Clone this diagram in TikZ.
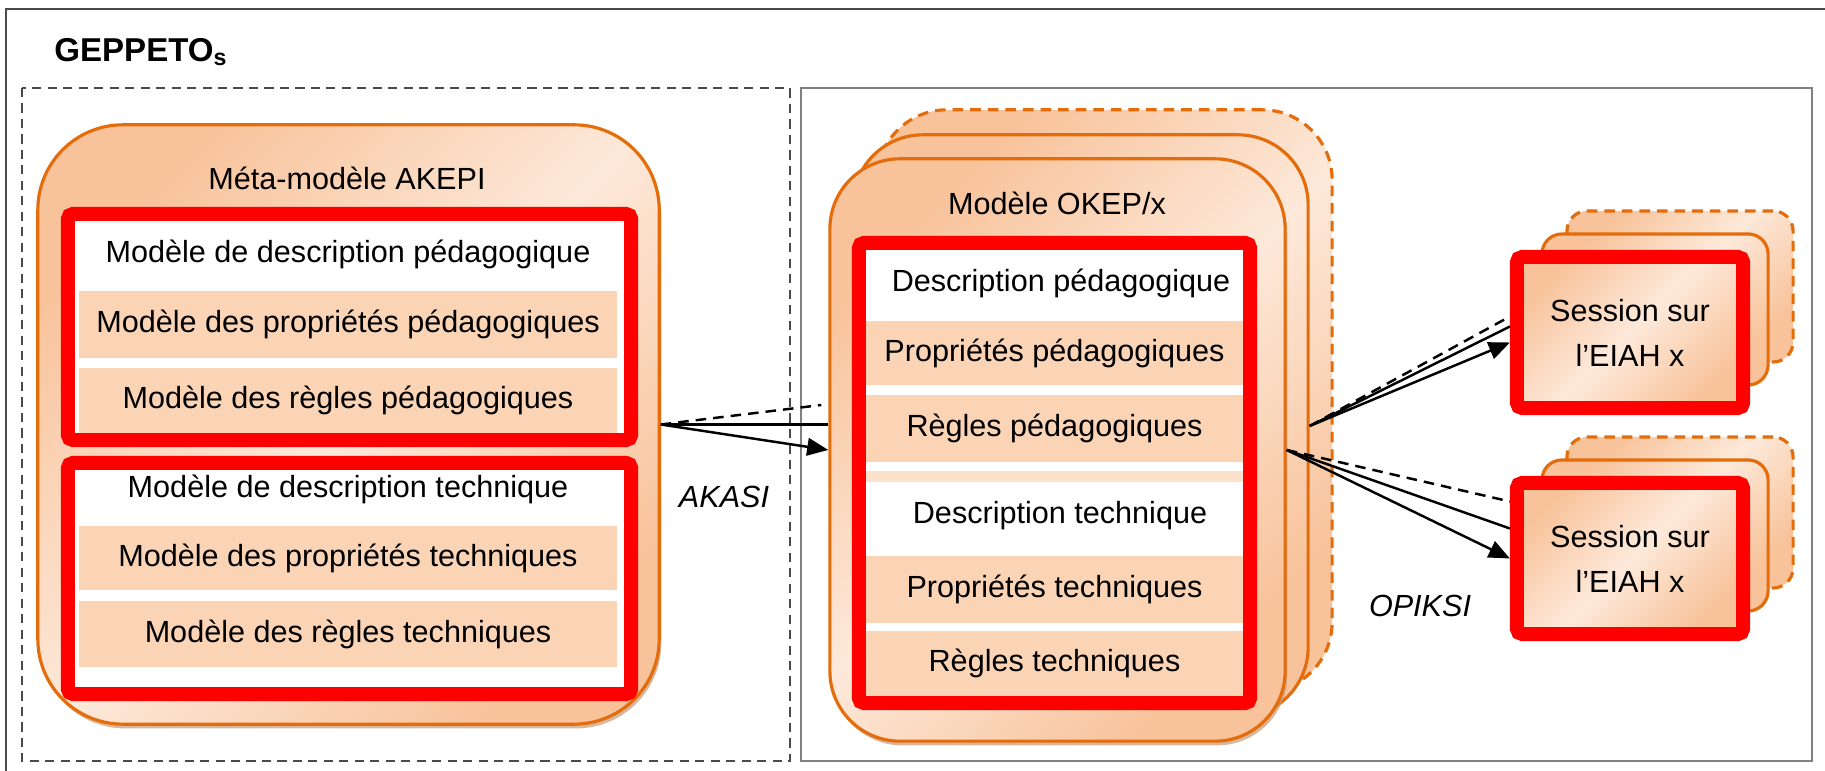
\documentclass[tikz,border=0pt]{standalone}
\usepackage{fontspec}
\setmainfont{Liberation Sans}
\usetikzlibrary{arrows.meta,calc,shadows}
\definecolor{orDark}{HTML}{F8C39B}
\definecolor{orLight}{HTML}{FDE9DA}
\definecolor{orBand}{HTML}{FAD4B5}
\definecolor{orLine}{HTML}{E46C0A}
\definecolor{frameGray}{HTML}{4A4A4A}
\definecolor{shadowBrown}{HTML}{C49A78}
\tikzset{
model/.style={
	  draw=orLine, line width=0.9pt, top color=orDark, bottom color=orDark,
	    middle color=orLight, shading angle=45, inner sep=0pt},
okeplayer/.style={model, rounded corners=0.7cm, minimum width=4.55cm,
	minimum height=5.82cm},
sesslayer/.style={model, rounded corners=0.2cm, minimum width=2.26cm,
	minimum height=1.51cm, align=center},
backdash/.style={dash pattern=on 3pt off 2pt},
hilite/.style={draw=red, line width=4pt, rounded corners=1.5pt, inner sep=0pt},
band/.style={fill=orBand, inner sep=0pt},
frame/.style={draw=frameGray, line width=0.8pt},
conn/.style={draw=black, line width=0.7pt},
tip/.style={-{Triangle[length=6pt,width=5pt]}},
shade/.style={drop shadow={shadow xshift=0.6pt, shadow yshift=-1.2pt,
	fill=shadowBrown, opacity=0.7}}
}

\begin{document}
\begin{tikzpicture}[x=0.01cm, y=-0.01cm, font=\fontsize{8.7}{12.8}\selectfont]
	\useasboundingbox (0,0) rectangle (1825,771);
	\draw[frame] (6,9) rectangle (1840,790);
	\draw[frame, dash pattern=on 2.6pt off 1.8pt] (22,88) rectangle (790,761);
	\draw[frame, draw=gray] (801,88) rectangle (1812,761);
	\node[anchor=west, font=\bfseries\fontsize{9.4}{11}\selectfont] (geppeto)
		at (42,52) {GEPPETO\textsubscript{s}};

	% meta-modele
	\node[model, shade, rounded corners=0.85cm, minimum width=6.21cm,
		minimum height=5.99cm] (akepi) at (348.5,424.5) {};
	\node (akepititle) at (347,178) {Méta-modèle AKEPI};
	\node[hilite, fill=white, minimum width=5.63cm, minimum height=2.26cm]
		(pedag) at (349.5,327) {};
	\node[hilite, fill=white, minimum width=5.63cm, minimum height=2.31cm]
		(techn) at (349.5,578.5) {};
	\node (pedagdesc) at (348,254) {Modèle de description pédagogique};
	\node[band, minimum width=5.38cm, minimum height=0.67cm] (pedagprop)
		at (348,324.5) {Modèle des propriétés pédagogiques};
	\node[band, minimum width=5.38cm, minimum height=0.65cm] (pedagrule)
		at (348,400.5) {Modèle des règles pédagogiques};
	\node (techndesc) at (348,489) {Modèle de description technique};
	\node[band, minimum width=5.38cm, minimum height=0.64cm] (technprop)
		at (348,558) {Modèle des propriétés techniques};
	\node[band, minimum width=5.38cm, minimum height=0.66cm] (technrule)
		at (348,634) {Modèle des règles techniques};

	% modele OKEP
	\node[okeplayer, backdash] (okep3) at (1104.5,401) {};
	\node[okeplayer] (okep2) at (1080.5,426) {};
	\node[okeplayer, shade] (okep) at (1057.5,450) {};
	\node (okeptitle) at (1057,203) {Modèle OKEP/x};
	\node[hilite, fill=white, minimum width=3.91cm, minimum height=4.60cm]
		(okepin) at (1054.5,473) {};
	\node (okpdesc) at (1061,283) {Description pédagogique};
	\node[band, minimum width=3.77cm, minimum height=0.64cm] (okpprop)
		at (1054.5,353) {Propriétés pédagogiques};
	\node[band, minimum width=3.77cm, minimum height=0.67cm] (okprule)
		at (1054.5,428.5) {Règles pédagogiques};
	\node[fill=orLight!60!orBand, inner sep=0pt, minimum width=3.77cm,
		minimum height=0.11cm] (okpstrip) at (1054.5,476.5) {};
	\node (oktdesc) at (1060,516) {Description technique};
	\node[band, minimum width=3.77cm, minimum height=0.67cm] (oktprop)
		at (1054.5,589.5) {Propriétés techniques};
	\node[band, minimum width=3.77cm, minimum height=0.65cm] (oktrule)
		at (1054.5,663.5) {Règles techniques};

	% sessions
	\node[sesslayer, backdash] (sess1c) at (1680,286.5) {};
	\node[sesslayer] (sess1b) at (1655,309.5) {};
	\node[sesslayer, hilite] (sess1) at (1630,332.5) {Session sur\\l’EIAH x};
	\node[sesslayer, backdash] (sess2c) at (1680,512.5) {};
	\node[sesslayer] (sess2b) at (1655,535.5) {};
	\node[sesslayer, hilite] (sess2) at (1630,558.5) {Session sur\\l’EIAH x};

	\node[font=\itshape\fontsize{8.7}{12.8}\selectfont] (akasi) at (724,497) {AKASI};
	\node[font=\itshape\fontsize{8.7}{12.8}\selectfont] (opiksi) at (1420,606) {OPIKSI};

	\draw[conn] (akepi.east) -- (akepi.east -| okep.west);
	\draw[conn, tip] (akepi.east) -- (okep.west);
	\draw[conn, backdash] (akepi.east) -- ($(okep.west)+(-7,-45)$);

	\draw[conn, backdash] (okep2.east) -- ($(sess1.west)+(0,-16)$);
	\draw[conn] (okep2.east) -- ($(sess1.west)+(0,-6)$);
	\draw[conn, tip] (okep2.east) -- ($(sess1.west)+(0,10)$);
	\draw[conn, backdash] (okep.east) -- ($(sess2.west)+(0,-57)$);
	\draw[conn] (okep.east) -- ($(sess2.west)+(0,-30)$);
	\draw[conn, tip] (okep.east) -- (sess2.west);
\end{tikzpicture}
\end{document}
